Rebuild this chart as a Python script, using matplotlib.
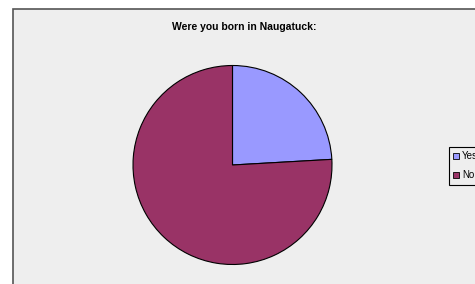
import matplotlib
matplotlib.use("Agg")
import matplotlib.pyplot as plt
from matplotlib.patches import Rectangle, Patch

labels = ["Yes", "No"]
counts = [20, 63]
colors = ["#9999ff", "#993366"]
title = "Were you born in Naugatuck:"

W, H = 475, 284
fig = plt.figure(figsize=(W / 100, H / 100), dpi=100)
fig.patch.set_facecolor("white")

# chart area (extends past right/bottom edge of image)
fig.patches.append(Rectangle((13 / W, -0.2), 1.2, 1 - 9 / H + 0.2,
                             transform=fig.transFigure, facecolor="#eeeeee",
                             edgecolor="#555555", linewidth=1.2, zorder=-5))

ax = fig.add_axes([133 / W, (H - 264.5) / H, 199 / W, 199 / H])
ax.set_zorder(2)
ax.pie(counts, colors=colors, startangle=90, counterclock=False,
       wedgeprops=dict(edgecolor="black", linewidth=0.8))
ax.set_xlim(-1, 1)
ax.set_ylim(-1, 1)
ax.set_aspect("auto")
ax.axis("off")

fig.text(244 / W, 1 - 27 / H, title, ha="center", va="center",
         fontsize=7.5, fontweight="bold", family="Liberation Sans")

handles = [Patch(facecolor=c, edgecolor="black", linewidth=0.6) for c in colors]
leg = fig.legend(handles, labels, loc="upper left",
                 bbox_to_anchor=(449 / W, 1 - 147 / H), frameon=True,
                 fancybox=False, edgecolor="black", facecolor="#eeeeee",
                 framealpha=1, prop=dict(family="Liberation Sans", size=7),
                 handlelength=0.6, handleheight=0.6, handletextpad=0.3,
                 borderpad=0.45, labelspacing=0.9, borderaxespad=0)
leg.get_frame().set_linewidth(0.8)
leg.set_zorder(3)

fig.savefig("out.png", dpi=100)
